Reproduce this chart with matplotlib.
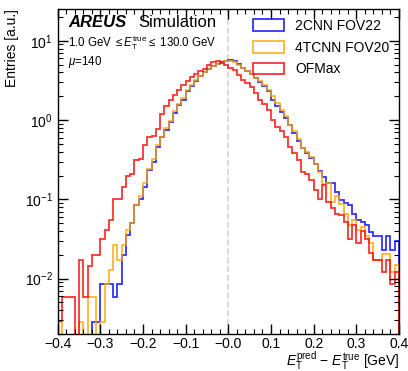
import numpy as np
import matplotlib
matplotlib.use("Agg")
import matplotlib.pyplot as plt
from matplotlib.ticker import MultipleLocator, LogLocator, NullFormatter
from matplotlib.patches import Patch

plt.rcParams['font.family'] = ['Liberation Sans', 'DejaVu Sans']
plt.rcParams['mathtext.fontset'] = 'custom'
plt.rcParams['mathtext.rm'] = 'Liberation Sans'
plt.rcParams['mathtext.it'] = 'Liberation Sans:italic'
plt.rcParams['mathtext.bf'] = 'Liberation Sans:bold'

# bins of E_T^pred - E_T^true, 0.01 GeV wide
edges = np.round(np.arange(-0.40, 0.4001, 0.01), 3)

# normalised entries per bin
cnn2_fov22 = [0, 0, 0, 0, 0, 0, 0, 0, 0.0028, 0.0028,
              0.0086, 0.0086, 0.0086, 0.0058, 0.0086, 0.0198, 0.035, 0.050, 0.085, 0.10,
              0.145, 0.235, 0.30, 0.46, 0.62, 0.76, 0.96, 1.23, 1.56, 1.8,
              2.3, 2.7, 3.1, 3.6, 4.0, 4.4, 4.8, 5.1, 5.4, 5.6,
              5.7, 5.5, 5.1, 4.6, 4.2, 3.8, 3.4, 3.0, 2.7, 2.3,
              1.8, 1.5, 1.28, 1.06, 0.87, 0.68, 0.55, 0.44, 0.38, 0.33,
              0.28, 0.23, 0.19, 0.16, 0.16, 0.124, 0.098, 0.089, 0.085, 0.066,
              0.055, 0.052, 0.047, 0.039, 0.034, 0.034, 0.023, 0.034, 0.023, 0.030]

tcnn4_fov20 = [0.0028, 0, 0, 0, 0, 0.0028, 0, 0.0058, 0.0058, 0,
               0.0028, 0.0086, 0.0127, 0.0264, 0.017, 0.0264, 0.041, 0.050, 0.085, 0.11,
               0.16, 0.24, 0.32, 0.48, 0.62, 0.80, 0.98, 1.3, 1.6, 1.9,
               2.4, 2.8, 3.2, 3.6, 4.0, 4.4, 4.8, 5.1, 5.3, 5.5,
               5.5, 5.4, 5.0, 4.6, 4.2, 3.8, 3.4, 3.1, 2.8, 2.4,
               2.0, 1.64, 1.35, 1.12, 0.87, 0.72, 0.58, 0.44, 0.40, 0.34,
               0.28, 0.22, 0.158, 0.16, 0.093, 0.11, 0.087, 0.066, 0.047, 0.0545,
               0.041, 0.045, 0.034, 0.028, 0.017, 0.017, 0.0207, 0.0207, 0.0121, 0.0148]

ofmax = [0.0029, 0.0058, 0.0058, 0.0058, 0, 0.0174, 0.0058, 0.0143, 0.0201, 0.0201,
         0.032, 0.041, 0.055, 0.10, 0.10, 0.145, 0.20, 0.21, 0.31, 0.32,
         0.49, 0.62, 0.63, 0.77, 1.2, 1.5, 1.8, 2.1, 2.4, 2.8,
         3.1, 3.5, 3.8, 4.2, 4.4, 4.9, 5.4, 5.6, 5.2, 4.9,
         4.6, 4.3, 3.7, 3.2, 2.9, 2.6, 2.2, 1.8, 1.6, 1.35,
         1.0, 0.83, 0.72, 0.62, 0.46, 0.38, 0.31, 0.22, 0.21, 0.175,
         0.13, 0.10, 0.15, 0.093, 0.077, 0.066, 0.063, 0.052, 0.032, 0.047,
         0.028, 0.040, 0.032, 0.021, 0.017, 0.017, 0.012, 0.017, 0.0086, 0.012]

labels = ["2CNN FOV22", "4TCNN FOV20", "OFMax"]
colors = ["blue", "orange", "red"]
series = [cnn2_fov22, tcnn4_fov20, ofmax]

fig = plt.figure(figsize=(4.08, 3.71), dpi=100)
ax = fig.add_axes([0.1414, 0.0997, 0.8366, 0.8752])

for vals, c in zip(series, colors):
    v = np.array(vals, dtype=float)
    v = np.where(v > 0, v, 1e-5)  # empty bins fall below the axis
    ax.stairs(v, edges, color=c, lw=1.3, alpha=0.8, baseline=1e-5)

ax.axvline(0.0, color='lightgrey', ls='--', lw=1.2, zorder=0)

ax.set_yscale('log')
ax.set_xlim(-0.4, 0.4)
ax.set_ylim(2e-3, 25)

ticks = np.round(np.arange(-0.4, 0.41, 0.1), 1)
ax.set_xticks(ticks)
ax.set_xticklabels([f"{t:.1f}".replace('-', '\u2212') for t in ticks])
ax.xaxis.set_minor_locator(MultipleLocator(0.02))
ax.yaxis.set_minor_locator(LogLocator(base=10, subs=np.arange(2, 10), numticks=20))
ax.yaxis.set_minor_formatter(NullFormatter())
ax.tick_params(which='both', direction='in', top=True, right=True, labelsize=10)
ax.tick_params(axis='x', which='major', pad=2)
ax.tick_params(which='major', length=7, width=1)
ax.tick_params(which='minor', length=3.5, width=0.8)
for s in ax.spines.values():
    s.set_linewidth(1)

ax.set_xlabel(r"$E_{\mathrm{T}}^{\mathrm{pred}}$ $-$ $E_{\mathrm{T}}^{\mathrm{true}}$ [GeV]",
              fontsize=10, loc='right', labelpad=-1)
ax.set_ylabel("Entries [a.u.]", fontsize=10, loc='top')

ax.text(0.03, 0.945, "AREUS", transform=ax.transAxes, fontsize=12,
        fontweight='bold', fontstyle='italic', va='baseline')
ax.text(0.235, 0.945, "Simulation", transform=ax.transAxes, fontsize=12, va='baseline')
ax.text(0.03, 0.885, r"1.0 GeV $\leq E_{\mathrm{T}}^{\mathrm{true}} \leq$ 130.0 GeV",
        transform=ax.transAxes, fontsize=8.3, va='baseline')
ax.text(0.03, 0.83, r"$\mu$=140", transform=ax.transAxes, fontsize=8.3, va='baseline')

handles = [Patch(facecolor='none', edgecolor=c, lw=1.3, alpha=0.8) for c in colors]
ax.legend(handles, labels, loc='upper right', frameon=False, fontsize=10,
          handlelength=2.2, handleheight=0.9, borderaxespad=0.3, labelspacing=0.55)

fig.savefig("out.png", dpi=100)
